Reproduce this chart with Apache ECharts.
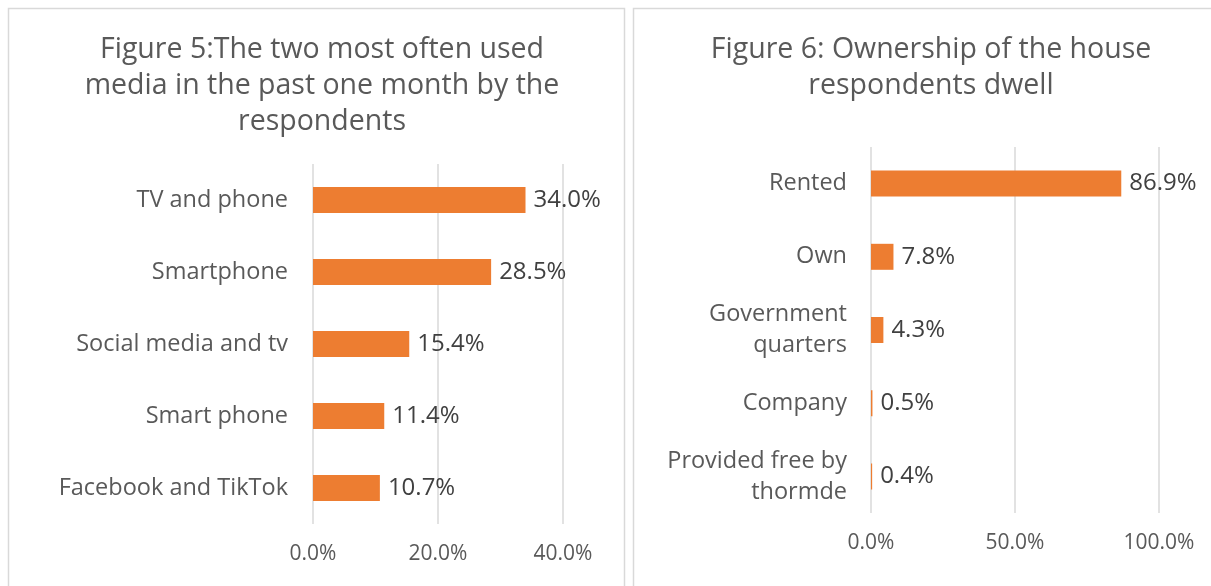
<!DOCTYPE html>
<html>
<head>
<meta charset="utf-8">
<title>Media use and house ownership</title>
<script src="https://cdn.jsdelivr.net/npm/echarts@6/dist/echarts.min.js"></script>
<style>
  html, body { margin: 0; padding: 0; background: #ffffff; }
  #chart { width: 1211px; height: 586px; }
</style>
</head>
<body>
<div id="chart"></div>
<script>
// Figure 5: media used most often in the past month
const mediaCategories = ['TV and phone', 'Smartphone', 'Social media and tv', 'Smart phone', 'Facebook and TikTok'];
const mediaValues = [34.0, 28.5, 15.4, 11.4, 10.7];
const mediaTicks = { min: 0, max: 40, interval: 20 };

// Figure 6: ownership of the dwelling
const ownershipCategories = ['Rented', 'Own', 'Government\nquarters', 'Company', 'Provided free by\nthormde'];
const ownershipValues = [86.9, 7.8, 4.3, 0.5, 0.4];
const ownershipTicks = { min: 0, max: 100, interval: 50 };

const FONT = '"Open Sans", Lato, sans-serif';
const GREY = '#595959';
const DARK = '#404040';
const ORANGE = '#ED7D31';
const GRID_LINE = '#d9d9d9';

const pct = v => v.toFixed(1) + '%';

function valueAxis(gridIndex, ticks) {
  return {
    type: 'value', gridIndex,
    min: ticks.min, max: ticks.max, interval: ticks.interval,
    axisLine: { show: false }, axisTick: { show: false },
    splitLine: { show: true, lineStyle: { color: GRID_LINE, width: 1.5 } },
    axisLabel: { formatter: pct, color: GREY, fontFamily: FONT, fontSize: 21, margin: 20 }
  };
}

function categoryAxis(gridIndex, cats, margin) {
  return {
    type: 'category', gridIndex, data: cats, inverse: true,
    axisLine: { show: false }, axisTick: { show: false },
    axisLabel: { color: GREY, fontFamily: FONT, fontSize: 23.5, lineHeight: 31, margin, align: 'right' }
  };
}

function barSeries(idx, values) {
  return {
    type: 'bar', xAxisIndex: idx, yAxisIndex: idx, data: values,
    barWidth: 26,
    itemStyle: { color: ORANGE },
    label: { show: true, position: 'right', distance: 8, formatter: p => pct(p.value),
             color: DARK, fontFamily: FONT, fontSize: 24 }
  };
}

const chart = echarts.init(document.getElementById('chart'), null, { renderer: 'canvas' });
chart.setOption({
  backgroundColor: '#ffffff',
  animation: false,
  graphic: [
    { type: 'rect', shape: { x: 8.5, y: 8.5, width: 616, height: 600 }, style: { fill: 'none', stroke: GRID_LINE, lineWidth: 1.5 }, silent: true },
    { type: 'rect', shape: { x: 633.5, y: 8.5, width: 600, height: 600 }, style: { fill: 'none', stroke: GRID_LINE, lineWidth: 1.5 }, silent: true }
  ],
  title: [
    { text: 'Figure 5:The two most often used\nmedia in the past one month by the\nrespondents',
      left: 317, top: 27, textAlign: 'center',
      textStyle: { color: GREY, fontFamily: FONT, fontSize: 28.5, fontWeight: 'normal', lineHeight: 36 } },
    { text: 'Figure 6: Ownership of the house\nrespondents dwell',
      left: 926, top: 27, textAlign: 'center',
      textStyle: { color: GREY, fontFamily: FONT, fontSize: 28.5, fontWeight: 'normal', lineHeight: 36 } }
  ],
  grid: [
    { left: 313, top: 164, width: 250, height: 360, containLabel: false },
    { left: 871, top: 147, width: 288, height: 366, containLabel: false }
  ],
  xAxis: [ valueAxis(0, mediaTicks), valueAxis(1, ownershipTicks) ],
  yAxis: [ categoryAxis(0, mediaCategories, 25), categoryAxis(1, ownershipCategories, 24) ],
  series: [ barSeries(0, mediaValues), barSeries(1, ownershipValues) ]
});
</script>
</body>
</html>
